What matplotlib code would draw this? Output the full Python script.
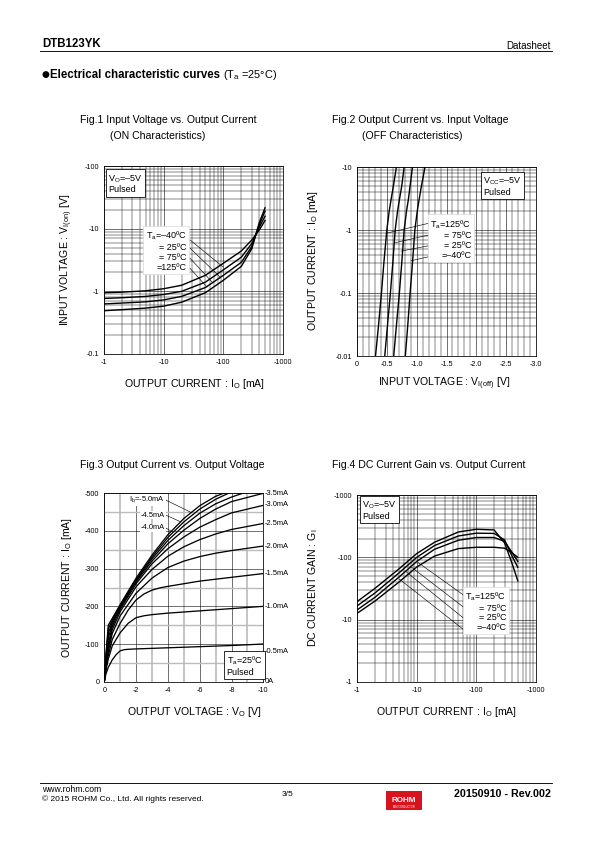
import matplotlib.pyplot as plt
from matplotlib.patches import Rectangle
from matplotlib.lines import Line2D
from matplotlib.ticker import FixedLocator, NullFormatter

plt.rcParams['font.family'] = ['Liberation Sans', 'DejaVu Sans']
plt.rcParams['mathtext.fontset'] = 'custom'
plt.rcParams['mathtext.rm'] = 'Liberation Sans'
plt.rcParams['mathtext.it'] = 'Liberation Sans'
plt.rcParams['mathtext.bf'] = 'Liberation Sans:bold'

W, H = 595, 842

# --- data (magnitudes; the sheet prints them as negative values) ------------
# Fig.1  Vi(on) vs Io
f1_io = [1, 2, 5, 10, 20, 50, 100, 200, 300, 400, 500]
f1_vin_m40 = [0.95, 0.97, 1.02, 1.10, 1.25, 1.80, 2.80, 4.40, 6.6, 9.5, 13.5]
f1_vin_25 = [0.77, 0.79, 0.83, 0.89, 1.00, 1.40, 2.20, 3.50, 5.8, 10.5, 15.8]
f1_vin_75 = [0.63, 0.65, 0.68, 0.73, 0.83, 1.15, 1.80, 2.90, 5.2, 11.5, 19.0]
f1_vin_125 = [0.49, 0.51, 0.54, 0.58, 0.67, 0.95, 1.50, 2.50, 4.8, 12.5, 21.5]

# Fig.2  Io vs Vi(off)
f2_io = [0.01, 0.03, 0.1, 0.3, 1, 2, 3, 5, 10]
f2_vi_125 = [0.31, 0.36, 0.41, 0.45, 0.50, 0.54, 0.57, 0.61, 0.66]
f2_vi_75 = [0.465, 0.51, 0.56, 0.60, 0.64, 0.68, 0.71, 0.75, 0.79]
f2_vi_25 = [0.615, 0.66, 0.71, 0.75, 0.79, 0.83, 0.86, 0.89, 0.93]
f2_vi_m40 = [0.81, 0.85, 0.89, 0.93, 0.97, 1.01, 1.04, 1.08, 1.14]

# Fig.3  Io vs Vo for Ib = 0.5 ... 5.0 mA
f3_v_05 = [0, 0.1, 0.25, 0.5, 0.75, 1.0, 1.25, 1.5, 2, 4, 6, 8, 10]
f3_i_05 = [0, 20, 38, 58, 72, 82, 85, 86, 87, 90, 93, 96, 100]
f3_v_10 = [0, 0.1, 0.25, 0.5, 1, 1.5, 2, 2.5, 3, 4, 6, 8, 10]
f3_i_10 = [0, 30, 60, 95, 130, 155, 170, 175, 178, 182, 188, 194, 200]
f3_v_15 = [0, 0.1, 0.25, 0.5, 1, 1.5, 2, 2.5, 3, 3.5, 4, 5, 6, 8, 10]
f3_i_15 = [0, 35, 70, 112, 155, 190, 217, 233, 243, 249, 253, 260, 267, 277, 287]
f3_v_hi = [0, 0.1, 0.25, 0.5, 1, 2, 3, 4, 5, 6, 7, 8, 10]
f3_i_20 = [0, 40, 80, 128, 175, 235, 275, 303, 320, 332, 341, 348, 360]
f3_i_25 = [0, 45, 90, 138, 186, 252, 298, 333, 358, 377, 392, 404, 420]
f3_i_30 = [0, 50, 100, 146, 192, 260, 313, 353, 384, 410, 430, 448, 468]
f3_i_35 = [0, 55, 115, 153, 196, 265, 320, 366, 402, 433, 458, 478, 500]
f3_v_40 = [0, 0.1, 0.25, 0.5, 1, 2, 3, 4, 5, 6, 7, 8, 8.7]
f3_i_40 = [0, 60, 128, 158, 199, 268, 326, 375, 414, 447, 472, 490, 500]
f3_v_45 = [0, 0.1, 0.25, 0.5, 1, 2, 3, 4, 5, 6, 7, 7.8]
f3_i_45 = [0, 65, 140, 163, 202, 271, 331, 383, 424, 458, 484, 500]
f3_v_50 = [0, 0.1, 0.25, 0.5, 1, 2, 3, 4, 5, 6, 7, 7.5]
f3_i_50 = [0, 70, 150, 168, 205, 275, 336, 390, 433, 467, 492, 500]

# Fig.4  Gi vs Io
f4_io = [1, 2, 5, 10, 20, 50, 100, 200, 300, 400, 500]
f4_g_125 = [19.6, 32, 65, 115, 175, 255, 282, 275, 170, 80, 42]
f4_g_75 = [16.7, 27, 56, 100, 155, 220, 244, 242, 190, 105, 69]
f4_g_25 = [14.4, 23, 48, 86, 135, 188, 208, 208, 180, 120, 86]
f4_g_m40 = [12.7, 20, 40, 70, 105, 138, 145, 145, 140, 118, 100]

fig = plt.figure(figsize=(W / 72, H / 72), dpi=72)

LAB = 10.5   # titles / axis labels
TCK = 7.3    # tick labels
BOX = 9      # in-plot notes


def axes_px(x0, y0, x1, y1):
    return fig.add_axes([x0 / W, 1 - y1 / H, (x1 - x0) / W, (y1 - y0) / H])


def ptext(x, y, s, **kw):
    kw.setdefault('fontsize', LAB)
    return fig.text(x / W, 1 - y / H, s, **kw)


def style(ax):
    for sp in ax.spines.values():
        sp.set_linewidth(0.8)
    ax.tick_params(which='both', length=0, labelsize=TCK, pad=5)
    ax.grid(which='major', color='black', lw=0.55)
    ax.grid(which='minor', color='black', lw=0.45)
    ax.set_axisbelow(True)


def box(ax, x, y, s, ha='left', ec='black'):
    ax.text(x, y, s, transform=ax.transAxes, ha=ha, va='top', fontsize=BOX,
            linespacing=1.1, multialignment=ha, zorder=5,
            bbox=dict(boxstyle='square,pad=0.25', fc='white', ec=ec, lw=0.8))


def leaders(ax, segs):
    for (x0, y0), (x1, y1) in segs:
        ax.add_line(Line2D([x0, x1], [y0, y1], transform=ax.transAxes,
                           color='black', lw=0.6, zorder=4))


def dec_labels(vals):
    return ['-%g' % v for v in vals]


# --- Fig.1 ---------------------------------------------------------------
ax1 = axes_px(104, 166, 283, 354)
for v in [f1_vin_m40, f1_vin_25, f1_vin_75, f1_vin_125]:
    ax1.plot(f1_io, v, color='black', lw=1.4)
ax1.set_xscale('log'); ax1.set_yscale('log')
ax1.set_xlim(1, 1000); ax1.set_ylim(0.1, 100)
ax1.set_xticks([1, 10, 100, 1000], dec_labels([1, 10, 100, 1000]))
ax1.set_yticks([0.1, 1, 10, 100], dec_labels([0.1, 1, 10, 100]))
ax1.xaxis.set_minor_formatter(NullFormatter()); ax1.yaxis.set_minor_formatter(NullFormatter())
style(ax1)
box(ax1, 0.025, 0.962, 'V$_\\mathregular{O}$=\u20135V\nPulsed')
box(ax1, 0.462, 0.66, 'T$_\\mathregular{a}$=\u201340\u00baC\n= 25\u00baC\n= 75\u00baC\n=125\u00baC',
    ha='right', ec='#dddddd')
leaders(ax1, [((0.447, 0.633), (0.665, 0.463)), ((0.462, 0.580), (0.648, 0.410)),
              ((0.469, 0.521), (0.609, 0.378)), ((0.469, 0.468), (0.575, 0.356))])

# --- Fig.2 ---------------------------------------------------------------
ax2 = axes_px(357, 167, 536, 356)
for v in [f2_vi_125, f2_vi_75, f2_vi_25, f2_vi_m40]:
    ax2.plot(v, f2_io, color='black', lw=1.4)
ax2.set_yscale('log')
ax2.set_xlim(0, 3); ax2.set_ylim(0.01, 10)
ax2.set_xticks([0, 0.5, 1, 1.5, 2, 2.5, 3],
               ['0', '-0.5', '-1.0', '-1.5', '-2.0', '-2.5', '-3.0'])
ax2.xaxis.set_minor_locator(FixedLocator([i / 10 for i in range(31)]))
ax2.set_yticks([0.01, 0.1, 1, 10], dec_labels([0.01, 0.1, 1, 10]))
ax2.yaxis.set_minor_formatter(NullFormatter())
style(ax2)
box(ax2, 0.705, 0.955, 'V$_\\mathregular{CC}$=\u20135V\nPulsed')
box(ax2, 0.64, 0.73, 'T$_\\mathregular{a}$=125\u00baC\n= 75\u00baC\n= 25\u00baC\n=\u201340\u00baC',
    ha='right', ec='#dddddd')
leaders(ax2, [((0.399, 0.702), (0.162, 0.649)), ((0.399, 0.640), (0.212, 0.599)),
              ((0.399, 0.583), (0.246, 0.555)), ((0.399, 0.525), (0.302, 0.504))])

# --- Fig.3 ---------------------------------------------------------------
ax3 = axes_px(104.3, 493.3, 263.3, 681.7)
f3_curves = [(f3_v_05, f3_i_05), (f3_v_10, f3_i_10), (f3_v_15, f3_i_15),
             (f3_v_hi, f3_i_20), (f3_v_hi, f3_i_25), (f3_v_hi, f3_i_30),
             (f3_v_hi, f3_i_35), (f3_v_40, f3_i_40), (f3_v_45, f3_i_45),
             (f3_v_50, f3_i_50)]
for v, i in f3_curves:
    ax3.plot(v, i, color='black', lw=1.3)
ax3.set_xlim(0, 10); ax3.set_ylim(0, 500)
ax3.set_xticks([0, 2, 4, 6, 8, 10], ['0', '-2', '-4', '-6', '-8', '-10'])
ax3.set_yticks([0, 100, 200, 300, 400, 500], ['0', '-100', '-200', '-300', '-400', '-500'])
ax3.xaxis.set_minor_locator(FixedLocator(range(11)))
ax3.yaxis.set_minor_locator(FixedLocator([50, 150, 250, 350, 450]))
style(ax3)
ax3.grid(which='minor', axis='y', color='#bbbbbb', lw=1.4)
box(ax3, 0.77, 0.145, 'T$_\\mathregular{a}$=25\u00baC\nPulsed')
right_lab = [(500, '-3.5mA'), (469, '-3.0mA'), (420, '-2.5mA'), (360, '-2.0mA'),
             (287, '-1.5mA'), (200, '-1.0mA'), (80, '-0.5mA'), (0, '0A')]
for y, s in right_lab:
    ax3.text(10.1, y, s, fontsize=7.5, va='center', ha='left', clip_on=False,
             bbox=dict(boxstyle='square,pad=0.15', fc='white', ec='none'))
left_lab = [((3.82, 482), (5.52, 448), 'I$_\\mathregular{b}$=-5.0mA'),
            ((3.82, 442), (4.82, 424), '-4.5mA'),
            ((3.82, 408), (4.26, 398), '-4.0mA')]
for (tx, ty), (lx, ly), s in left_lab:
    ax3.text(tx, ty, s, fontsize=7.5, va='center', ha='right', zorder=5,
             bbox=dict(boxstyle='square,pad=0.1', fc='white', ec='none'))
    ax3.plot([tx + 0.05, lx], [ty, ly], color='black', lw=0.6)

# --- Fig.4 ---------------------------------------------------------------
ax4 = axes_px(357.3, 495, 535.7, 682)
for g in [f4_g_125, f4_g_75, f4_g_25, f4_g_m40]:
    ax4.plot(f4_io, g, color='black', lw=1.4)
ax4.set_xscale('log'); ax4.set_yscale('log')
ax4.set_xlim(1, 1000); ax4.set_ylim(1, 1000)
ax4.set_xticks([1, 10, 100, 1000], dec_labels([1, 10, 100, 1000]))
ax4.set_yticks([1, 10, 100, 1000], dec_labels([1, 10, 100, 1000]))
ax4.xaxis.set_minor_formatter(NullFormatter()); ax4.yaxis.set_minor_formatter(NullFormatter())
style(ax4)
box(ax4, 0.026, 0.975, 'V$_\\mathregular{O}$=\u20135V\nPulsed')
box(ax4, 0.835, 0.49, 'T$_\\mathregular{a}$=125\u00baC\n= 75\u00baC\n= 25\u00baC\n=\u201340\u00baC',
    ha='right', ec='#dddddd')
leaders(ax4, [((0.342, 0.638), (0.604, 0.459)), ((0.305, 0.613), (0.604, 0.394)),
              ((0.273, 0.590), (0.604, 0.335)), ((0.236, 0.550), (0.604, 0.274))])

# --- axis labels and titles ---------------------------------------------
ptext(67, 260, 'INPUT VOLTAGE : V$_\\mathregular{I(on)}$ [V]', rotation=90, ha='center', va='center')
ptext(313, 261, 'OUTPUT CURRENT : I$_\\mathregular{O}$ [mA]', rotation=90, ha='center', va='center')
ptext(67, 588, 'OUTPUT CURRENT : I$_\\mathregular{O}$ [mA]', rotation=90, ha='center', va='center')
ptext(313, 588, 'DC CURRENT GAIN : G$_\\mathregular{I}$', rotation=90, ha='center', va='center')
ptext(194, 384, 'OUTPUT CURRENT : I$_\\mathregular{O}$ [mA]', ha='center', va='center')
ptext(444, 384, 'INPUT VOLTAGE : V$_\\mathregular{I(off)}$ [V]', ha='center', va='center')
ptext(194, 712, 'OUTPUT VOLTAGE : V$_\\mathregular{O}$ [V]', ha='center', va='center')
ptext(446, 712, 'OUTPUT CURRENT : I$_\\mathregular{O}$ [mA]', ha='center', va='center')

ptext(80, 120, 'Fig.1 Input Voltage vs. Output Current', va='center')
ptext(110, 136, '(ON Characteristics)', va='center')
ptext(332, 120, 'Fig.2 Output Current vs. Input Voltage', va='center')
ptext(362, 136, '(OFF Characteristics)', va='center')
ptext(80, 465, 'Fig.3 Output Current vs. Output Voltage', va='center')
ptext(332, 465, 'Fig.4 DC Current Gain vs. Output Current', va='center')

# --- page header / footer ------------------------------------------------
ptext(42, 44, 'DTB123YK', fontsize=11.5, fontweight='bold', va='center')
ptext(551, 46, 'Datasheet', fontsize=9.8, ha='right', va='center')
fig.add_artist(Line2D([40 / W, 552 / W], [1 - 51 / H, 1 - 51 / H], color='black', lw=0.9))
ptext(41, 75, '\u25cf', fontsize=9, va='center', family=['DejaVu Sans'])
ptext(50, 75, 'Electrical characteristic curves', fontsize=11.5, fontweight='bold', va='center')
ptext(223, 75, '(T$_\\mathregular{a}$ =25\u00b0C)', fontsize=11, va='center')

fig.add_artist(Line2D([40 / W, 552 / W], [1 - 783 / H, 1 - 783 / H], color='black', lw=0.9))
ptext(42, 790, 'www.rohm.com', fontsize=8.6, va='center')
ptext(42, 799, '\u00a9 2015 ROHM Co., Ltd. All rights reserved.', fontsize=8.4, va='center')
ptext(288, 795, '3/5', fontsize=8.4, ha='center', va='center')
ptext(551, 794, '20150910 - Rev.002', fontsize=10.8, fontweight='bold', ha='right', va='center')
fig.add_artist(Rectangle((386 / W, 1 - 810 / H), 36 / W, 19 / H, transform=fig.transFigure,
                         fc='#d7141e', ec='none'))
ptext(404, 801, 'ROHM', fontsize=8, fontweight='bold', color='white', ha='center', va='center')
ptext(404, 807.5, 'SEMICONDUCTOR', fontsize=2.5, color='white', ha='center', va='center')

fig.savefig('out.png', dpi=72)
